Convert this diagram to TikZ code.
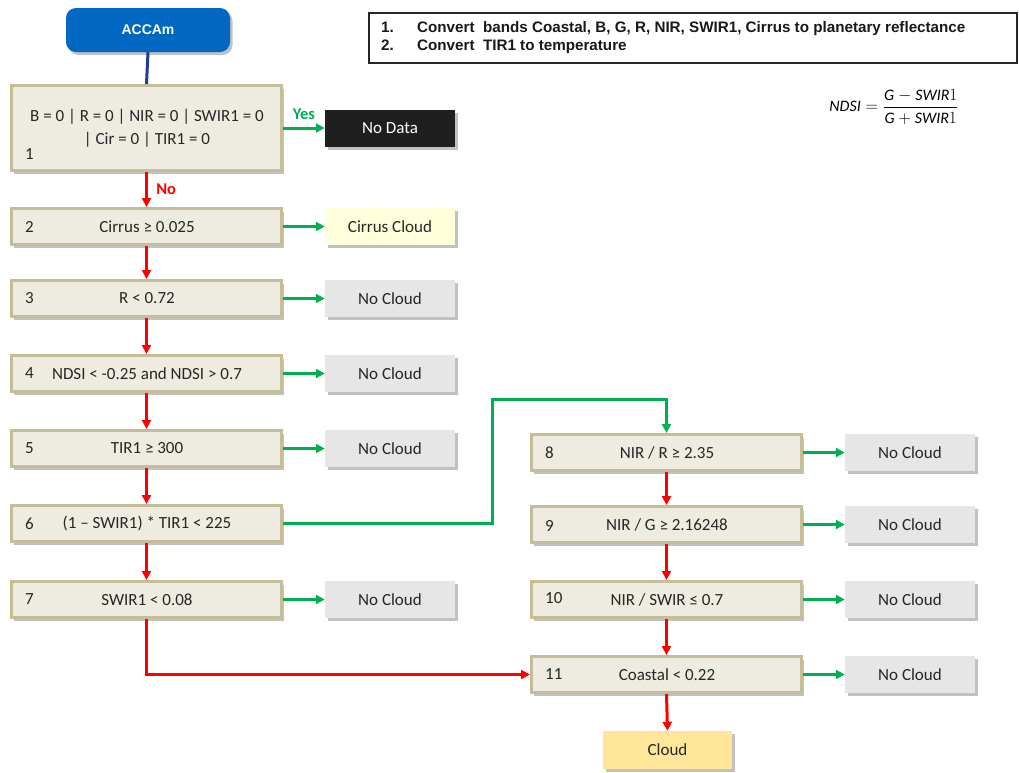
\documentclass[tikz,border=0pt]{standalone}
\usepackage{fontspec}
\setmainfont{Carlito}
\newfontfamily\arialfont{Liberation Sans}
\usetikzlibrary{arrows.meta,shadows}
\definecolor{boxfill}{HTML}{EEECE1}
\definecolor{boxline}{HTML}{C4BD97}
\definecolor{accblue}{HTML}{0068C0}
\definecolor{lineblue}{HTML}{1F3C99}
\definecolor{ygreen}{HTML}{00B050}
\definecolor{nred}{HTML}{FF0000}
\definecolor{ncloud}{HTML}{E6E6E6}
\definecolor{cirrusc}{HTML}{FFFFDC}
\definecolor{cloudc}{HTML}{FFE699}
\definecolor{txt}{HTML}{262626}
\begin{document}
\begin{tikzpicture}[x=1pt,y=-1pt,
  sh/.style={drop shadow={shadow xshift=2.5pt,shadow yshift=-3pt,opacity=0.35,fill=black!70}},
  test/.style={draw=boxline,line width=3pt,fill=boxfill,minimum width=270pt,minimum height=36pt,inner sep=0pt,sh},
  ttext/.style={font=\fontsize{17}{22.5}\selectfont,text=txt,inner sep=0pt},
  num/.style={font=\fontsize{17}{20}\selectfont,text=txt,inner sep=0pt},
  outc/.style={fill=ncloud,minimum width=130pt,minimum height=37pt,inner sep=0pt,sh,font=\fontsize{17}{20}\selectfont,text=txt},
  yesarr/.style={draw=ygreen,line width=3pt,-{Triangle[length=9pt,width=9pt]}},
  noarr/.style={draw=nred,line width=3pt,-{Triangle[length=9pt,width=9pt]}},
]
\useasboundingbox (0,0) rectangle (1019,772);

% start
\node[fill=accblue,rounded corners=10pt,minimum width=164pt,minimum height=44pt,inner sep=0pt,sh,
      text=white,font=\arialfont\bfseries\fontsize{14}{17}\selectfont] (start) at (148,30) {ACCAm};

% info box
\node[draw=black!85,line width=2pt,minimum width=648pt,minimum height=50pt,inner sep=0pt] (info) at (692.5,37.5) {};
\node[anchor=west,inner sep=0pt,align=left,font=\arialfont\bfseries\fontsize{15.2}{18}\selectfont,text=black!90] (infotext) at (381,38)
  {\makebox[36pt][l]{1.}Convert\ \ bands Coastal, B, G, R, NIR, SWIR1, Cirrus to planetary reflectance\\
   \makebox[36pt][l]{2.}Convert\ \ TIR1 to temperature};

% formula
\node[inner sep=0pt,font=\fontsize{16}{19}\selectfont] (ndsi) at (894,107) {$\displaystyle \mathit{NDSI}=\frac{\mathit{G}-\mathit{SWIR}1}{\mathit{G}+\mathit{SWIR}1}$};

% left column tests
\node[test,minimum height=85pt] (t1) at (146.5,128) {};
\node[ttext,align=center] (t1t) at (147,128) {B = 0 | R = 0 | NIR = 0 | SWIR1 = 0\\| Cir = 0 | TIR1 = 0};
\node[num,anchor=west] (n1) at (25,154) {1};

\node[test] (t2) at (146.5,226.5) {};
\node[ttext] (t2t) at (147,226.5) {Cirrus ≥ 0.025};
\node[num,anchor=west] (n2) at (25,226.5) {2};

\node[test] (t3) at (146.5,298.5) {};
\node[ttext] (t3t) at (147,298.5) {R < 0.72};
\node[num,anchor=west] (n3) at (25,298.5) {3};

\node[test] (t4) at (146.5,373.5) {};
\node[ttext] (t4t) at (147,373.5) {NDSI < -0.25 and NDSI > 0.7};
\node[num,anchor=west] (n4) at (25,373.5) {4};

\node[test] (t5) at (146.5,448.5) {};
\node[ttext] (t5t) at (147,448.5) {TIR1 ≥ 300};
\node[num,anchor=west] (n5) at (25,448.5) {5};

\node[test] (t6) at (146.5,523.5) {};
\node[ttext] (t6t) at (147,523.5) {(1 – SWIR1) * TIR1 < 225};
\node[num,anchor=west] (n6) at (25,523.5) {6};

\node[test] (t7) at (146.5,599.5) {};
\node[ttext] (t7t) at (147,599.5) {SWIR1 < 0.08};
\node[num,anchor=west] (n7) at (25,599.5) {7};

% right column tests
\node[test] (t8) at (666.5,452.5) {};
\node[ttext] (t8t) at (667,452.5) {NIR / R ≥ 2.35};
\node[num,anchor=west] (n8) at (545,452.5) {8};

\node[test] (t9) at (666.5,524.5) {};
\node[ttext] (t9t) at (667,524.5) {NIR / G ≥ 2.16248};
\node[num,anchor=west] (n9) at (545,525.5) {9};

\node[test] (t10) at (666.5,599.5) {};
\node[ttext] (t10t) at (667,599.5) {NIR / SWIR ≤ 0.7};
\node[num,anchor=west] (n10) at (545,598) {10};

\node[test] (t11) at (666.5,674.5) {};
\node[ttext] (t11t) at (667,674.5) {Coastal < 0.22};
\node[num,anchor=west] (n11) at (545,674.5) {11};

% outcomes
\node[outc,fill=black!88,text=white] (o1) at (390,128) {No Data};
\node[outc,fill=cirrusc] (o2) at (390,226.5) {Cirrus Cloud};
\node[outc] (o3) at (390,298.5) {No Cloud};
\node[outc] (o4) at (390,373.5) {No Cloud};
\node[outc] (o5) at (390,448.5) {No Cloud};
\node[outc] (o7) at (390,599.5) {No Cloud};
\node[outc] (o8) at (910,452.5) {No Cloud};
\node[outc] (o9) at (910,524.5) {No Cloud};
\node[outc] (o10) at (910,599.5) {No Cloud};
\node[outc] (o11) at (910,674.5) {No Cloud};
\node[outc,fill=cloudc,minimum width=129pt,minimum height=38pt] (cloud) at (667.5,750) {Cloud};

% connectors
\draw[draw=lineblue,line width=3pt] (start.south) -- (t1.north);
\draw[yesarr] (t1.east) -- (o1.west) node[midway,above=4pt,text=ygreen,font=\fontsize{16.5}{18}\selectfont\bfseries] (yes) {Yes};
\draw[noarr] (t1.south) -- (t2.north) node[midway,right=5pt,text=nred,font=\fontsize{16.5}{18}\selectfont\bfseries] (no) {No};
\draw[yesarr] (t2.east) -- (o2.west);
\draw[noarr] (t2.south) -- (t3.north);
\draw[yesarr] (t3.east) -- (o3.west);
\draw[noarr] (t3.south) -- (t4.north);
\draw[yesarr] (t4.east) -- (o4.west);
\draw[noarr] (t4.south) -- (t5.north);
\draw[yesarr] (t5.east) -- (o5.west);
\draw[noarr] (t5.south) -- (t6.north);
\draw[yesarr] (t6.east) -- (492,523.5) -- (492,399) -- (t8.north |- 0,399) -- (t8.north);
\draw[noarr] (t6.south) -- (t7.north);
\draw[yesarr] (t7.east) -- (o7.west);
\draw[noarr] (t7.south) -- (t7.south |- t11.west) -- (t11.west);
\draw[yesarr] (t8.east) -- (o8.west);
\draw[noarr] (t8.south) -- (t9.north);
\draw[yesarr] (t9.east) -- (o9.west);
\draw[noarr] (t9.south) -- (t10.north);
\draw[yesarr] (t10.east) -- (o10.west);
\draw[noarr] (t10.south) -- (t11.north);
\draw[yesarr] (t11.east) -- (o11.west);
\draw[noarr] (t11.south) -- (cloud.north);
\end{tikzpicture}
\end{document}
